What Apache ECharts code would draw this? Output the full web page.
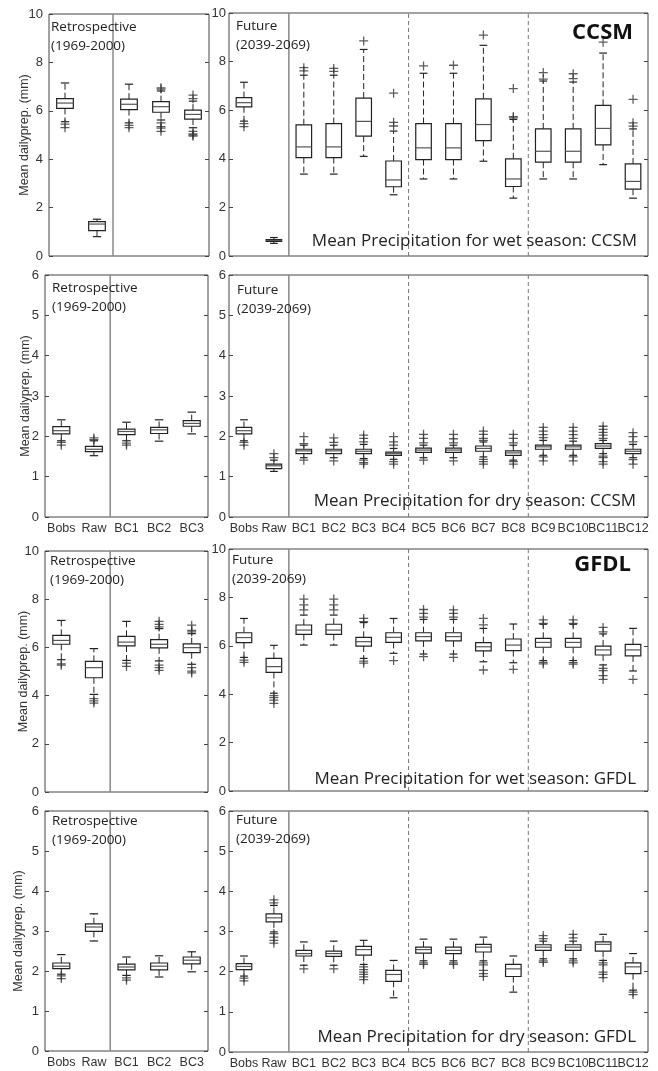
<!DOCTYPE html>
<html>
<head>
<meta charset="utf-8">
<script src="https://cdn.jsdelivr.net/npm/echarts@6/dist/echarts.min.js"></script>
<style>
  html, body { margin: 0; padding: 0; background: #fff; }
  #chart { width: 658px; height: 1071px; }
</style>
</head>
<body>
<div id="chart"></div>
<script>
// categories
const retroCats = ["Bobs", "Raw", "BC1", "BC2", "BC3"];
const futureCats = ["Bobs", "Raw", "BC1", "BC2", "BC3", "BC4", "BC5", "BC6",
  "BC7", "BC8", "BC9", "BC10", "BC11", "BC12"];
const wetTicks = { max: 10, step: 2 };
const dryTicks = { max: 6, step: 1 };

// boxes: [lower whisker, Q1, median, Q3, upper whisker]; outliers per category
const wetCcsmRetro = [
  [5.55, 6.1, 6.32, 6.5, 7.15], [0.8, 1.05, 1.32, 1.42, 1.52],
  [5.5, 6.05, 6.27, 6.48, 7.1], [5.62, 5.94, 6.17, 6.38, 6.82],
  [5.3, 5.66, 5.85, 6.03, 6.4]
];
const wetCcsmRetroOut = [[5.45, 5.3], [], [5.4, 5.3],
  [6.95, 6.9, 5.5, 5.35, 5.28, 5.15], [6.65, 6.5, 5.15, 5.05, 5.0, 4.95]];

const wetCcsmFut = [
  [5.55, 6.14, 6.31, 6.52, 7.15], [0.52, 0.6, 0.64, 0.68, 0.76],
  [3.37, 4.05, 4.49, 5.4, 7.44], [3.37, 4.05, 4.49, 5.45, 7.44],
  [4.1, 4.93, 5.54, 6.5, 8.5], [2.52, 2.85, 3.13, 3.91, 5.14],
  [3.17, 3.97, 4.45, 5.45, 7.52], [3.17, 3.97, 4.45, 5.45, 7.52],
  [3.9, 4.75, 5.41, 6.47, 8.67], [2.38, 2.86, 3.17, 4.0, 5.62],
  [3.17, 3.86, 4.31, 5.23, 7.2], [3.17, 3.86, 4.31, 5.23, 7.16],
  [3.76, 4.57, 5.25, 6.2, 8.35], [2.38, 2.75, 3.07, 3.79, 5.23]
];
const wetCcsmFutOut = [[5.45, 5.32], [], [7.62, 7.75], [7.6, 7.72], [8.85],
  [6.7, 5.5, 5.35], [7.82], [7.85], [9.09], [6.89, 5.74, 5.68], [7.55, 7.28],
  [7.5, 7.3], [8.8], [6.45, 5.48, 5.34]];

const dryCcsmRetro = [
  [1.89, 2.06, 2.14, 2.24, 2.41], [1.52, 1.62, 1.68, 1.75, 1.89],
  [1.89, 2.04, 2.12, 2.18, 2.35], [1.88, 2.07, 2.16, 2.22, 2.41],
  [2.06, 2.25, 2.32, 2.39, 2.6]
];
const dryCcsmRetroOut = [[1.85, 1.78], [1.96, 1.92], [1.83, 1.78], [], []];

const dryCcsmFut = [
  [1.89, 2.06, 2.14, 2.22, 2.41], [1.13, 1.2, 1.27, 1.31, 1.41],
  [1.47, 1.57, 1.64, 1.68, 1.78], [1.47, 1.57, 1.64, 1.68, 1.78],
  [1.45, 1.57, 1.63, 1.68, 1.8], [1.43, 1.53, 1.57, 1.61, 1.7],
  [1.47, 1.6, 1.66, 1.71, 1.78], [1.47, 1.6, 1.66, 1.71, 1.78],
  [1.49, 1.63, 1.7, 1.76, 1.86], [1.41, 1.53, 1.59, 1.64, 1.78],
  [1.53, 1.68, 1.74, 1.78, 1.9], [1.53, 1.68, 1.74, 1.78, 1.88],
  [1.57, 1.7, 1.76, 1.82, 1.9], [1.47, 1.57, 1.63, 1.68, 1.8]
];
const dryCcsmFutOut = [[1.85, 1.78], [1.57, 1.47], [1.99, 1.82, 1.41],
  [1.96, 1.85, 1.39], [2.03, 1.95, 1.86, 1.41, 1.35, 1.31],
  [1.99, 1.86, 1.78, 1.37, 1.31], [2.05, 1.95, 1.84, 1.41],
  [2.05, 1.94, 1.84, 1.39], [2.13, 2.05, 1.95, 1.9, 1.43, 1.37, 1.31],
  [2.05, 1.95, 1.84, 1.37, 1.31], [2.22, 2.13, 2.04, 1.97, 1.49, 1.39],
  [2.22, 2.13, 2.04, 1.95, 1.49, 1.39],
  [2.25, 2.17, 2.1, 2.03, 1.95, 1.51, 1.47, 1.37, 1.31],
  [2.09, 1.99, 1.86, 1.42, 1.31]];

const wetGfdlRetro = [
  [5.49, 6.13, 6.29, 6.5, 7.12], [4.05, 4.74, 5.16, 5.42, 5.95],
  [5.46, 6.06, 6.22, 6.46, 7.08], [5.44, 5.98, 6.13, 6.32, 6.78],
  [5.3, 5.78, 5.99, 6.15, 6.57]
];
const wetGfdlRetroOut = [[5.32, 5.26], [3.87, 3.78, 3.69], [5.35, 5.21],
  [7.08, 6.96, 6.85, 5.26, 5.16, 5.05], [6.92, 6.71, 6.64, 5.16, 5.02, 4.94]];

const wetGfdlFut = [
  [5.52, 6.13, 6.34, 6.54, 7.13], [4.04, 4.9, 5.14, 5.48, 6.02],
  [6.03, 6.47, 6.65, 6.86, 7.27], [6.03, 6.47, 6.65, 6.89, 7.27],
  [5.48, 5.99, 6.17, 6.35, 6.96], [5.69, 6.14, 6.35, 6.54, 7.13],
  [5.66, 6.2, 6.38, 6.54, 7.09], [5.66, 6.2, 6.38, 6.54, 7.09],
  [5.34, 5.79, 5.96, 6.13, 6.72], [5.3, 5.8, 6.03, 6.28, 6.9],
  [5.39, 5.94, 6.14, 6.31, 6.89], [5.39, 5.94, 6.14, 6.31, 6.89],
  [5.21, 5.62, 5.83, 5.99, 6.49], [4.96, 5.58, 5.83, 6.06, 6.72]
];
const wetGfdlFutOut = [[5.41, 5.32], [3.94, 3.86, 3.76, 3.62],
  [7.93, 7.69, 7.48], [7.93, 7.69, 7.48], [7.13, 7.0, 5.37, 5.28], [5.39],
  [7.5, 7.34, 7.18, 5.55], [7.48, 7.34, 7.18, 5.52], [7.13, 6.86, 5.0],
  [5.03], [7.07, 6.93, 5.32, 5.25], [7.07, 6.93, 5.3, 5.24],
  [6.76, 6.58, 5.07, 4.97, 4.77, 4.61], [4.61]];

const dryGfdlRetro = [
  [1.92, 2.06, 2.12, 2.2, 2.41], [2.75, 2.99, 3.1, 3.18, 3.43],
  [1.89, 2.03, 2.1, 2.17, 2.35], [1.85, 2.03, 2.12, 2.2, 2.38],
  [1.98, 2.18, 2.27, 2.35, 2.48]
];
const dryGfdlRetroOut = [[1.88, 1.81], [], [1.83, 1.77], [], []];

const dryGfdlFut = [
  [1.89, 2.05, 2.13, 2.2, 2.39], [2.99, 3.24, 3.34, 3.44, 3.65],
  [2.16, 2.39, 2.45, 2.53, 2.74], [2.16, 2.38, 2.45, 2.51, 2.76],
  [2.18, 2.41, 2.55, 2.63, 2.78], [1.35, 1.76, 1.93, 2.03, 2.28],
  [2.27, 2.46, 2.55, 2.61, 2.81], [2.27, 2.45, 2.53, 2.61, 2.81],
  [2.27, 2.49, 2.61, 2.68, 2.86], [1.49, 1.88, 2.07, 2.18, 2.39],
  [2.32, 2.53, 2.61, 2.67, 2.76], [2.32, 2.53, 2.61, 2.67, 2.76],
  [2.28, 2.51, 2.68, 2.74, 2.93], [1.54, 1.95, 2.12, 2.22, 2.45]
];
const dryGfdlFutOut = [[1.84, 1.77], [3.79, 3.71, 2.95, 2.86, 2.78, 2.71],
  [2.07], [2.07], [2.12, 2.05, 1.99, 1.93, 1.87, 1.8], [], [2.22, 2.18],
  [2.22, 2.18], [2.22, 2.17, 2.03, 1.95, 1.88], [], [2.9, 2.82, 2.27, 2.23],
  [2.93, 2.84, 2.27, 2.22], [2.22, 2.17, 1.99, 1.93, 1.85], [1.49, 1.43]];

// separators (category boundaries)
const retroSolid = [2];
const futureSolid = [2];
const futureDashed = [6, 10];

// panel layout
const panels = [
  { boxes: wetCcsmRetro, out: wetCcsmRetroOut, cats: retroCats, ticks: wetTicks, left: 49, top: 14, width: 160, height: 242, showX: false, retro: true, nameGap: 18 },
  { boxes: wetCcsmFut, out: wetCcsmFutOut, cats: futureCats, ticks: wetTicks, left: 229, top: 13, width: 419, height: 243, showX: false, retro: false },
  { boxes: dryCcsmRetro, out: dryCcsmRetroOut, cats: retroCats, ticks: dryTicks, left: 45, top: 275, width: 163, height: 242, showX: true, retro: true, nameGap: 13 },
  { boxes: dryCcsmFut, out: dryCcsmFutOut, cats: futureCats, ticks: dryTicks, left: 229, top: 275, width: 419, height: 242, showX: true, retro: false },
  { boxes: wetGfdlRetro, out: wetGfdlRetroOut, cats: retroCats, ticks: wetTicks, left: 45, top: 551, width: 163, height: 241, showX: false, retro: true, nameGap: 15 },
  { boxes: wetGfdlFut, out: wetGfdlFutOut, cats: futureCats, ticks: wetTicks, left: 229, top: 549, width: 419, height: 242, showX: false, retro: false },
  { boxes: dryGfdlRetro, out: dryGfdlRetroOut, cats: retroCats, ticks: dryTicks, left: 45, top: 811, width: 163, height: 240, showX: true, retro: true, nameGap: 20 },
  { boxes: dryGfdlFut, out: dryGfdlFutOut, cats: futureCats, ticks: dryTicks, left: 229, top: 811, width: 419, height: 241, showX: true, retro: false }
];

const LINE = "#222";
const plusPath = "path://M0,4.3H10V5.7H0ZM4.3,0H5.7V10H4.3Z";

function renderBox(params, api) {
  const x = api.value(0);
  const lo = api.coord([x, api.value(1)]);
  const q1 = api.coord([x, api.value(2)]);
  const md = api.coord([x, api.value(3)]);
  const q3 = api.coord([x, api.value(4)]);
  const hi = api.coord([x, api.value(5)]);
  const band = api.size([1, 0])[0];
  const bw = band * 0.52;
  const cw = bw * 0.5;
  const cx = lo[0];
  const whisk = { stroke: LINE, lineWidth: 1, lineDash: [6, 3] };
  const cap = { stroke: LINE, lineWidth: 1.2 };
  return {
    type: "group",
    children: [
      { type: "line", shape: { x1: cx, y1: q3[1], x2: cx, y2: hi[1] }, style: whisk },
      { type: "line", shape: { x1: cx, y1: q1[1], x2: cx, y2: lo[1] }, style: whisk },
      { type: "line", shape: { x1: cx - cw / 2, y1: hi[1], x2: cx + cw / 2, y2: hi[1] }, style: cap },
      { type: "line", shape: { x1: cx - cw / 2, y1: lo[1], x2: cx + cw / 2, y2: lo[1] }, style: cap },
      { type: "rect", shape: { x: cx - bw / 2, y: q3[1], width: bw, height: q1[1] - q3[1] },
        style: { stroke: LINE, fill: "#fff", lineWidth: 1.2 } },
      { type: "line", shape: { x1: cx - bw / 2, y1: md[1], x2: cx + bw / 2, y2: md[1] },
        style: { stroke: "#555", lineWidth: 1.2 } }
    ]
  };
}

const grid = [], xAxis = [], yAxis = [], series = [];

panels.forEach((p, i) => {
  grid.push({ left: p.left, top: p.top, width: p.width, height: p.height,
    show: true, borderColor: "#444", borderWidth: 1, backgroundColor: "#fff" });

  // category axis for the boxes
  xAxis.push({
    type: "category", gridIndex: i, data: p.cats, boundaryGap: true,
    axisLine: { show: false }, axisTick: { show: false },
    axisLabel: { show: p.showX, interval: 0, hideOverlap: false, margin: 5,
      color: "#333", fontSize: 12.5, fontFamily: "Liberation Sans" }
  });
  // hidden value axis for category boundaries
  xAxis.push({ type: "value", gridIndex: i, min: 0, max: p.cats.length, show: false });

  const yBase = {
    type: "value", gridIndex: i, min: 0, max: p.ticks.max, interval: p.ticks.step,
    splitLine: { show: false }, axisLine: { show: false }
  };
  yAxis.push(Object.assign({}, yBase, {
    position: "left",
    axisTick: { show: true, inside: true, length: 4, lineStyle: { color: "#444" } },
    axisLabel: { color: "#333", fontSize: 13, fontFamily: "Liberation Sans", margin: p.retro ? 6 : 3 },
    name: p.retro ? "Mean dailyprep. (mm)" : "",
    nameLocation: "middle", nameGap: p.nameGap || 16, nameMoveOverlap: false,
    nameTextStyle: { color: "#333", fontSize: 12.5, fontFamily: "Liberation Sans" }
  }));
  yAxis.push(Object.assign({}, yBase, {
    position: "right",
    axisTick: { show: true, inside: true, length: 4, lineStyle: { color: "#444" } },
    axisLabel: { show: false }
  }));

  const catAxis = i * 2, valAxis = i * 2 + 1, yIdx = i * 2;
  const solid = p.retro ? retroSolid : futureSolid;
  const dashed = p.retro ? [] : futureDashed;

  solid.forEach(s => series.push({
    type: "line", xAxisIndex: valAxis, yAxisIndex: yIdx, silent: true, symbol: "none",
    data: [[s, 0], [s, p.ticks.max]], lineStyle: { color: "#888", width: 1.5 }, z: 1
  }));
  dashed.forEach(s => series.push({
    type: "line", xAxisIndex: valAxis, yAxisIndex: yIdx, silent: true, symbol: "none",
    data: [[s, 0], [s, p.ticks.max]], lineStyle: { color: "#777", width: 1, type: [4, 3] }, z: 1
  }));

  series.push({
    type: "custom", xAxisIndex: catAxis, yAxisIndex: yIdx, z: 3,
    renderItem: renderBox,
    encode: { x: 0, y: [1, 2, 3, 4, 5] },
    data: p.boxes.map((b, k) => [k].concat(b))
  });

  const pts = [];
  p.out.forEach((vals, k) => vals.forEach(v => pts.push([k, v])));
  series.push({
    type: "scatter", xAxisIndex: catAxis, yAxisIndex: yIdx, z: 4,
    symbol: plusPath, symbolSize: 9, itemStyle: { color: "#333" }, data: pts
  });
});

// panel annotations
const noteStyle = { fontSize: 13.5, fontWeight: "normal", fontFamily: "Open Sans", color: "#222", lineHeight: 19 };
const title = [
  { text: "Retrospective\n(1969-2000)", left: 51, top: 18, padding: 0, textStyle: noteStyle },
  { text: "Future\n(2039-2069)", left: 236, top: 17, padding: 0, textStyle: noteStyle },
  { text: "Retrospective\n(1969-2000)", left: 52, top: 279, padding: 0, textStyle: noteStyle },
  { text: "Future\n(2039-2069)", left: 237, top: 281, padding: 0, textStyle: noteStyle },
  { text: "Retrospective\n(1969-2000)", left: 50, top: 552, padding: 0, textStyle: noteStyle },
  { text: "Future\n(2039-2069)", left: 232, top: 551, padding: 0, textStyle: noteStyle },
  { text: "Retrospective\n(1969-2000)", left: 52, top: 812, padding: 0, textStyle: noteStyle },
  { text: "Future\n(2039-2069)", left: 236, top: 811, padding: 0, textStyle: noteStyle }
];

const captionFont = { fontSize: 17, fontFamily: "Open Sans", fill: "#222", align: "right", verticalAlign: "middle" };
const modelFont = { fontSize: 22, fontWeight: "bold", fontFamily: "Open Sans", fill: "#111", align: "right", verticalAlign: "middle" };
const graphic = [
  { type: "text", x: 637, y: 241, z: 10, style: Object.assign({ text: "Mean Precipitation for wet season: CCSM" }, captionFont) },
  { type: "text", x: 636, y: 501, z: 10, style: Object.assign({ text: "Mean Precipitation for dry season: CCSM" }, captionFont) },
  { type: "text", x: 636, y: 779, z: 10, style: Object.assign({ text: "Mean Precipitation for wet season: GFDL" }, captionFont) },
  { type: "text", x: 636, y: 1037, z: 10, style: Object.assign({ text: "Mean Precipitation for dry season: GFDL" }, captionFont) },
  { type: "text", x: 633, y: 33, z: 10, style: Object.assign({ text: "CCSM" }, modelFont) },
  { type: "text", x: 631, y: 565, z: 10, style: Object.assign({ text: "GFDL" }, modelFont) }
];

const chart = echarts.init(document.getElementById("chart"));
chart.setOption({
  animation: false,
  backgroundColor: "#fff",
  title, grid, xAxis, yAxis, series, graphic
});
</script>
</body>
</html>
